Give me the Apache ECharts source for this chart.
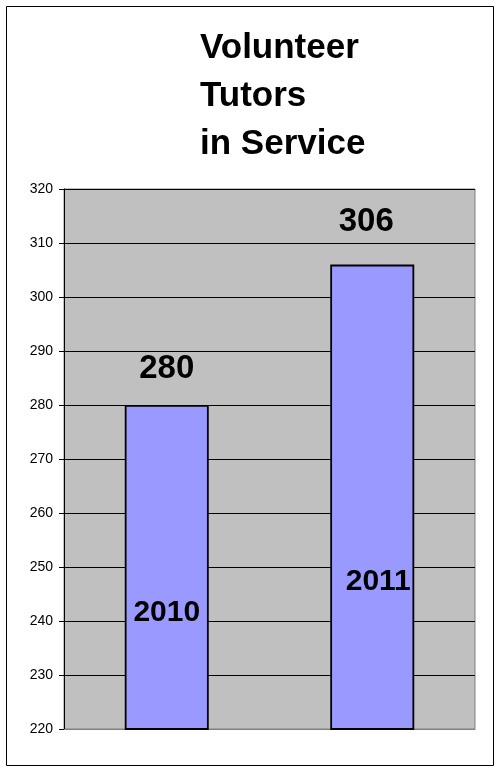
<!DOCTYPE html>
<html>
<head>
<meta charset="utf-8">
<script src="https://cdn.jsdelivr.net/npm/echarts@6/dist/echarts.min.js"></script>
<style>
html,body{margin:0;padding:0;background:#fff;}
#c{width:499px;height:772px;}
</style>
</head>
<body>
<div id="c"></div>
<script>
// Data
var categories = ['2010', '2011'];
var tutors = [280, 306];
var yTicks = { min: 220, max: 320, interval: 10 };
var titleText = 'Volunteer\nTutors\nin Service';

// Label styling per bar (layout only)
var topLabelDistance = [20, 26];
var topLabelOffsetX = [0, -6];
var catLabelDistance = [101, 132];
var catLabelOffsetX = [0, 6];

var chart = echarts.init(document.getElementById('c'), null, { renderer: 'canvas' });
var font = 'Liberation Sans, Arial, sans-serif';

chart.setOption({
  animation: false,
  backgroundColor: '#fff',
  title: {
    text: titleText,
    left: 200,
    top: 24,
    padding: 0,
    textStyle: { fontFamily: font, fontSize: 35, fontWeight: 'bold', color: '#000', lineHeight: 48 }
  },
  graphic: [{
    type: 'rect',
    shape: { x: 6.5, y: 6.5, width: 487, height: 759 },
    style: { fill: 'none', stroke: '#000', lineWidth: 1 },
    silent: true
  }],
  grid: {
    left: 64, right: 24, top: 189, bottom: 43,
    show: true, backgroundColor: '#C0C0C0', borderColor: '#808080', borderWidth: 1
  },
  xAxis: {
    type: 'category',
    data: categories,
    axisLine: { show: true, lineStyle: { color: '#808080', width: 1 } },
    axisTick: { show: false },
    axisLabel: { show: false }
  },
  yAxis: {
    type: 'value',
    min: yTicks.min, max: yTicks.max, interval: yTicks.interval,
    axisLine: { show: true, lineStyle: { color: '#000', width: 1 } },
    axisTick: { show: true, length: 5, lineStyle: { color: '#000' } },
    axisLabel: { fontFamily: font, fontSize: 14, color: '#000', margin: 11 },
    splitLine: { show: true, lineStyle: { color: '#000', width: 1 } }
  },
  series: [{
    type: 'bar',
    barWidth: 84,
    data: tutors.map(function (v, i) {
      return { value: v, label: { distance: topLabelDistance[i], offset: [topLabelOffsetX[i], 0] } };
    }),
    itemStyle: { color: '#9999FF', borderColor: '#000', borderWidth: 1.8 },
    label: {
      show: true, position: 'top',
      fontFamily: font, fontSize: 33, fontWeight: 'bold', color: '#000', lineHeight: 33
    }
  }, {
    type: 'bar',
    barWidth: 84,
    barGap: '-100%',
    silent: true,
    data: tutors.map(function (v, i) {
      return { value: v, label: { distance: catLabelDistance[i], offset: [catLabelOffsetX[i], 0] } };
    }),
    itemStyle: { color: 'rgba(0,0,0,0)', borderWidth: 0 },
    label: {
      show: true, position: 'insideBottom',
      formatter: function (p) { return p.name; },
      fontFamily: font, fontSize: 30, fontWeight: 'bold', color: '#000', lineHeight: 30
    }
  }]
});
</script>
</body>
</html>
